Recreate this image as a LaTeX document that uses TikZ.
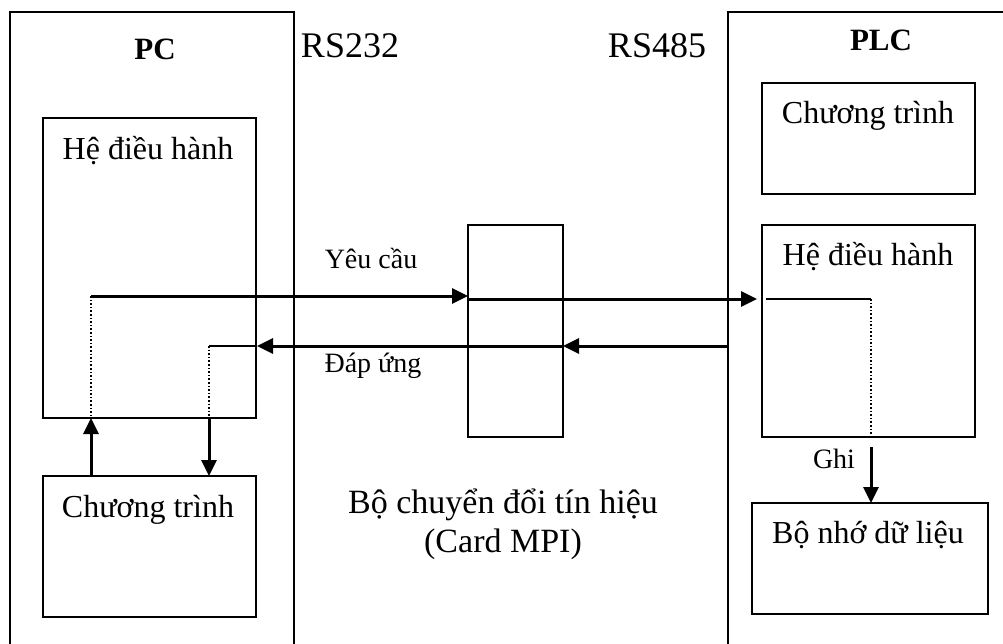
\documentclass[tikz,border=0pt]{standalone}
\usepackage{fontspec}
\setmainfont{Liberation Serif}
\usetikzlibrary{arrows.meta}
\begin{document}
\begin{tikzpicture}[x=1pt,y=-1pt,
  box/.style={draw,line width=2.5pt,anchor=north west,inner sep=0pt,outer sep=0pt},
  frame/.style={box,line width=2.2pt},
  txt/.style={anchor=base,inner sep=0pt,font=\fontsize{32}{38}\selectfont},
  small/.style={txt,font=\fontsize{28}{34}\selectfont},
  head/.style={txt,font=\fontsize{31}{36}\selectfont\bfseries},
  port/.style={txt,font=\fontsize{36}{42}\selectfont},
  flow/.style={line width=3pt,-{Triangle[length=16pt,width=15pt]}},
  thinline/.style={line width=1.8pt},
  dots/.style={line width=1.6pt,dash pattern=on 1.6pt off 2pt}]
\useasboundingbox (0,0) rectangle (1003,643);
\clip (0,0) rectangle (1003,643);

% outer frames (open at the bottom / right of the sheet)
\node[frame,minimum width=284pt,minimum height=700pt] (pc) at (10,12) {};
\node[frame,minimum width=320pt,minimum height=700pt] (plc) at (728,12) {};

% inner blocks
\node[box,minimum width=213pt,minimum height=300pt] (pcos) at (43,118) {};
\node[box,minimum width=213pt,minimum height=141pt] (pcprog) at (43,476) {};
\node[box,minimum width=95pt,minimum height=212pt] (mpi) at (468,225) {};
\node[box,minimum width=213pt,minimum height=111pt] (plcprog) at (762,83) {};
\node[box,minimum width=213pt,minimum height=212pt] (plcos) at (762,225) {};
\node[box,minimum width=236pt,minimum height=111pt] (plcmem) at (752,503) {};

% texts
\node[head] (pclbl) at (155,59) {PC};
\node[head] (plclbl) at (881,50) {PLC};
\node[port] (rs232) at (350,57) {RS232};
\node[port] (rs485) at (657,57) {RS485};
\node[txt] (pcostxt) at (148,159) {Hệ điều hành};
\node[txt] (pcprogtxt) at (148,517) {Chương trình};
\node[txt] (plcprogtxt) at (868,123) {Chương trình};
\node[txt] (plcostxt) at (868,265) {Hệ điều hành};
\node[txt] (plcmemtxt) at (868,543) {Bộ nhớ dữ liệu};
\node[small] (reqtxt) at (371,268) {Yêu cầu};
\node[small] (resptxt) at (373,372) {Đáp ứng};
\node[small] (writetxt) at (834,468) {Ghi};
\node[txt,font=\fontsize{34}{40}\selectfont] (conv1) at (503,513) {Bộ chuyển đổi tín hiệu};
\node[txt,font=\fontsize{34}{40}\selectfont] (conv2) at (503,552) {(Card MPI)};

% connection points
\coordinate (reqA) at (91,296);
\coordinate (reqB) at (468,299);
\coordinate (reqC) at (757,299);
\coordinate (plcin) at (766,299);
\coordinate (plcturn) at (871,299);
\coordinate (plcw) at (871,447);
\coordinate (respA) at (728,346);
\coordinate (respB) at (563,346);
\coordinate (respC) at (257,346);
\coordinate (pcturn) at (209,346);

% request path
\draw[dots] (reqA) -- (reqA |- pcos.south);
\draw[flow] (reqA |- pcprog.north) -- (reqA |- pcos.south);
\draw[flow] (reqA) -- (reqA -| mpi.west);
\draw[flow] (reqB) -- (reqC);
\draw[thinline] (plcin) -- (plcturn);
\draw[dots] (plcturn) -- (plcturn |- plcos.south);
\draw[flow] (plcw) -- (plcw |- plcmem.north);

% response path
\draw[flow] (respA) -- (respB);
\draw[flow] (respB) -- (respC);
\draw[thinline] (respC) -- (pcturn);
\draw[dots] (pcturn) -- (pcturn |- pcos.south);
\draw[flow] (pcturn |- pcos.south) -- (pcturn |- pcprog.north);
\end{tikzpicture}
\end{document}
